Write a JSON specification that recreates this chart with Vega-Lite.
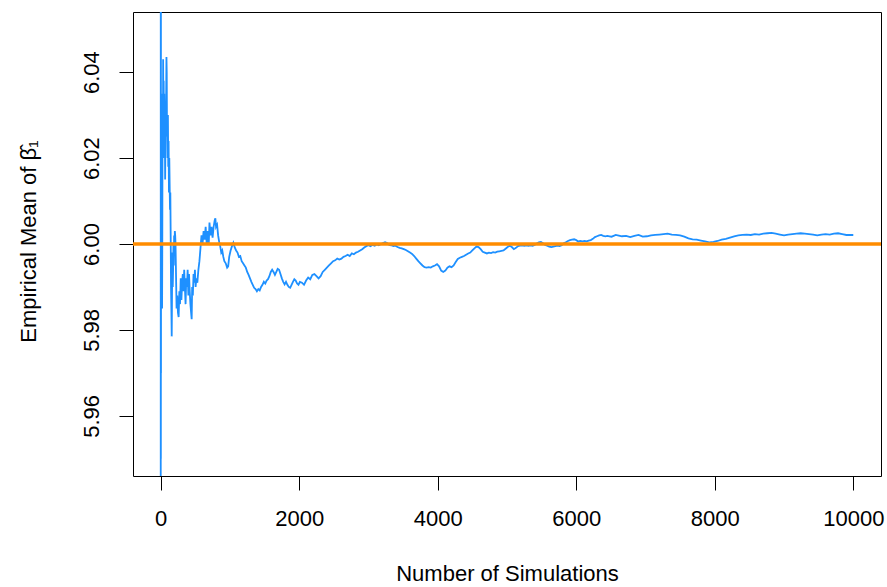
{
  "$schema": "https://vega.github.io/schema/vega-lite/v6.json",
  "autosize": {"type": "none"},
  "width": 748,
  "height": 464,
  "padding": {"left": 133, "top": 12, "right": 6, "bottom": 111},
  "background": "white",
  "config": {
    "view": {"stroke": "black", "strokeWidth": 1},
    "font": "Liberation Sans",
    "axis": {"grid": false, "domain": false, "tickColor": "black", "tickSize": 14, "tickWidth": 1, "labelColor": "black", "titleColor": "black", "labelFont": "Liberation Sans", "titleFont": "Liberation Sans", "labelFontSize": 22, "titleFontSize": 22, "titleFontWeight": "normal"}
  },
  "layer": [
    {
      "data": {"values": [
        {"n":1,"m":5.80},{"n":2,"m":6.12},{"n":3,"m":5.95},{"n":4,"m":6.06},{"n":5,"m":5.97},{"n":6,"m":6.03},{"n":7,"m":5.99},{"n":8,"m":6.02},{"n":10,"m":5.995},{"n":12,"m":6.03},{"n":15,"m":6.01},{"n":18,"m":5.99},{"n":21,"m":5.985},{"n":24,"m":6.0},{"n":27,"m":6.025},{"n":30,"m":6.035},{"n":33,"m":6.02},{"n":36,"m":6.043},{"n":40,"m":6.03},{"n":44,"m":6.038},{"n":48,"m":6.025},{"n":52,"m":6.035},{"n":56,"m":6.02},{"n":60,"m":6.03},{"n":65,"m":6.015},{"n":70,"m":6.025},{"n":75,"m":6.028},{"n":80,"m":6.035},{"n":84,"m":6.0435},{"n":88,"m":6.04},{"n":92,"m":6.025},{"n":96,"m":6.03},{"n":100,"m":6.02},{"n":105,"m":6.03},{"n":110,"m":6.018},{"n":115,"m":6.024},{"n":120,"m":6.012},{"n":125,"m":6.02},{"n":130,"m":6.014},{"n":135,"m":6.008},{"n":140,"m":6.012},{"n":145,"m":6.002},{"n":150,"m":5.99},{"n":155,"m":5.985},{"n":160,"m":5.9785},{"n":165,"m":5.99},{"n":170,"m":5.998},{"n":175,"m":5.99},{"n":180,"m":5.994},{"n":185,"m":6.0},{"n":190,"m":5.995},{"n":195,"m":6.002},{"n":200,"m":5.998},{"n":205,"m":6.003},{"n":210,"m":6.002},{"n":215,"m":6.0},{"n":220,"m":5.995},{"n":225,"m":5.99},{"n":230,"m":5.985},{"n":240,"m":5.988},{"n":250,"m":5.984},{"n":260,"m":5.983},{"n":270,"m":5.989},{"n":280,"m":5.986},{"n":290,"m":5.992},{"n":300,"m":5.987},{"n":310,"m":5.991},{"n":320,"m":5.993},{"n":330,"m":5.989},{"n":340,"m":5.994},{"n":350,"m":5.99},{"n":360,"m":5.986},{"n":370,"m":5.992},{"n":380,"m":5.99},{"n":390,"m":5.994},{"n":400,"m":5.988},{"n":410,"m":5.993},{"n":420,"m":5.989},{"n":430,"m":5.986},{"n":440,"m":5.984},{"n":448,"m":5.9825},{"n":455,"m":5.99},{"n":465,"m":5.988},{"n":475,"m":5.993},{"n":485,"m":5.991},{"n":495,"m":5.994},{"n":505,"m":5.99},{"n":515,"m":5.992},{"n":530,"m":5.991},{"n":545,"m":5.994},{"n":560,"m":5.996},{"n":575,"m":5.999},{"n":590,"m":6.002},{"n":605,"m":6.0},{"n":620,"m":6.003},{"n":635,"m":6.001},{"n":650,"m":6.004},{"n":665,"m":6.0},{"n":680,"m":6.003},{"n":695,"m":6.0},{"n":705,"m":6.005},{"n":720,"m":6.002},{"n":735,"m":6.004},{"n":750,"m":6.0015},{"n":765,"m":6.004},{"n":780,"m":6.0055},{"n":790,"m":6.006},{"n":800,"m":6.004},{"n":815,"m":6.0045},{"n":830,"m":6.002},{"n":845,"m":6.0005},{"n":860,"m":5.9995},{"n":875,"m":5.998},{"n":890,"m":5.9985},{"n":905,"m":5.997},{"n":920,"m":5.996},{"n":940,"m":5.9955},{"n":960,"m":5.9945},{"n":975,"m":5.9948},{"n":990,"m":5.997},{"n":1010,"m":5.9985},{"n":1030,"m":5.9995},{"n":1050,"m":6.0003},{"n":1070,"m":5.9992},{"n":1090,"m":5.9985},{"n":1110,"m":5.998},{"n":1130,"m":5.997},{"n":1150,"m":5.9972},{"n":1170,"m":5.996},{"n":1190,"m":5.9955},{"n":1210,"m":5.995},{"n":1230,"m":5.9945},{"n":1250,"m":5.9935},{"n":1270,"m":5.9928},{"n":1290,"m":5.992},{"n":1310,"m":5.9912},{"n":1330,"m":5.9905},{"n":1350,"m":5.9898},{"n":1370,"m":5.9895},{"n":1390,"m":5.989},{"n":1410,"m":5.9895},{"n":1430,"m":5.9892},{"n":1450,"m":5.99},{"n":1470,"m":5.9905},{"n":1490,"m":5.9912},{"n":1510,"m":5.9908},{"n":1530,"m":5.9915},{"n":1550,"m":5.9918},{"n":1570,"m":5.9925},{"n":1590,"m":5.9935},{"n":1610,"m":5.994},{"n":1630,"m":5.9935},{"n":1650,"m":5.9928},{"n":1670,"m":5.9935},{"n":1690,"m":5.9942},{"n":1710,"m":5.994},{"n":1730,"m":5.993},{"n":1750,"m":5.992},{"n":1770,"m":5.9912},{"n":1790,"m":5.9906},{"n":1810,"m":5.9912},{"n":1830,"m":5.9905},{"n":1850,"m":5.99},{"n":1870,"m":5.9898},{"n":1890,"m":5.9905},{"n":1910,"m":5.9912},{"n":1930,"m":5.9918},{"n":1950,"m":5.9915},{"n":1970,"m":5.9908},{"n":1990,"m":5.9905},{"n":2010,"m":5.9912},{"n":2040,"m":5.991},{"n":2070,"m":5.9905},{"n":2100,"m":5.9915},{"n":2130,"m":5.9922},{"n":2160,"m":5.9918},{"n":2190,"m":5.9928},{"n":2220,"m":5.993},{"n":2250,"m":5.9925},{"n":2280,"m":5.992},{"n":2310,"m":5.9925},{"n":2340,"m":5.9935},{"n":2370,"m":5.994},{"n":2400,"m":5.9945},{"n":2430,"m":5.995},{"n":2460,"m":5.9955},{"n":2490,"m":5.996},{"n":2520,"m":5.9962},{"n":2550,"m":5.9966},{"n":2580,"m":5.9964},{"n":2610,"m":5.9966},{"n":2640,"m":5.997},{"n":2670,"m":5.9972},{"n":2700,"m":5.9975},{"n":2730,"m":5.9972},{"n":2760,"m":5.9978},{"n":2790,"m":5.9976},{"n":2820,"m":5.998},{"n":2850,"m":5.9982},{"n":2880,"m":5.9985},{"n":2910,"m":5.9988},{"n":2940,"m":5.9992},{"n":2970,"m":5.9995},{"n":3000,"m":5.9997},{"n":3030,"m":5.9995},{"n":3060,"m":5.9998},{"n":3090,"m":5.9996},{"n":3120,"m":5.9999},{"n":3150,"m":5.9997},{"n":3180,"m":6.0},{"n":3210,"m":6.0002},{"n":3240,"m":6.0004},{"n":3270,"m":6.0002},{"n":3300,"m":5.9998},{"n":3330,"m":5.9997},{"n":3360,"m":5.9995},{"n":3390,"m":5.9996},{"n":3420,"m":5.9993},{"n":3450,"m":5.9991},{"n":3480,"m":5.999},{"n":3510,"m":5.9988},{"n":3540,"m":5.9986},{"n":3570,"m":5.9983},{"n":3600,"m":5.998},{"n":3630,"m":5.9977},{"n":3660,"m":5.9972},{"n":3690,"m":5.9966},{"n":3720,"m":5.996},{"n":3750,"m":5.9955},{"n":3780,"m":5.995},{"n":3810,"m":5.9946},{"n":3840,"m":5.9945},{"n":3870,"m":5.9946},{"n":3900,"m":5.9945},{"n":3930,"m":5.9948},{"n":3960,"m":5.995},{"n":3990,"m":5.9953},{"n":4020,"m":5.9948},{"n":4050,"m":5.9938},{"n":4080,"m":5.9935},{"n":4110,"m":5.9938},{"n":4140,"m":5.9945},{"n":4170,"m":5.9948},{"n":4200,"m":5.9946},{"n":4230,"m":5.995},{"n":4260,"m":5.9958},{"n":4290,"m":5.9965},{"n":4320,"m":5.9968},{"n":4350,"m":5.997},{"n":4380,"m":5.9972},{"n":4410,"m":5.9975},{"n":4440,"m":5.9978},{"n":4470,"m":5.998},{"n":4500,"m":5.9985},{"n":4530,"m":5.999},{"n":4560,"m":5.9994},{"n":4590,"m":5.9993},{"n":4620,"m":5.9988},{"n":4650,"m":5.9982},{"n":4680,"m":5.998},{"n":4710,"m":5.9978},{"n":4740,"m":5.998},{"n":4770,"m":5.9979},{"n":4800,"m":5.9981},{"n":4830,"m":5.998},{"n":4860,"m":5.9982},{"n":4890,"m":5.9983},{"n":4920,"m":5.9984},{"n":4950,"m":5.9985},{"n":4980,"m":5.9989},{"n":5010,"m":5.9993},{"n":5040,"m":5.9996},{"n":5070,"m":5.9993},{"n":5100,"m":5.9988},{"n":5130,"m":5.9991},{"n":5160,"m":5.9995},{"n":5190,"m":5.9996},{"n":5220,"m":5.9997},{"n":5250,"m":5.9996},{"n":5280,"m":5.9997},{"n":5310,"m":5.9996},{"n":5340,"m":5.9997},{"n":5370,"m":5.9996},{"n":5400,"m":5.9998},{"n":5430,"m":6.0001},{"n":5460,"m":6.0004},{"n":5490,"m":6.0005},{"n":5520,"m":6.0002},{"n":5550,"m":5.9998},{"n":5580,"m":5.9996},{"n":5610,"m":5.9994},{"n":5640,"m":5.9993},{"n":5670,"m":5.9994},{"n":5700,"m":5.9995},{"n":5730,"m":5.9996},{"n":5760,"m":5.9995},{"n":5790,"m":5.9997},{"n":5820,"m":6.0002},{"n":5850,"m":6.0004},{"n":5880,"m":6.0007},{"n":5910,"m":6.0009},{"n":5940,"m":6.001},{"n":5970,"m":6.0011},{"n":6000,"m":6.0009},{"n":6030,"m":6.0006},{"n":6060,"m":6.0007},{"n":6090,"m":6.0006},{"n":6120,"m":6.0007},{"n":6150,"m":6.0006},{"n":6180,"m":6.0008},{"n":6210,"m":6.0009},{"n":6240,"m":6.0012},{"n":6270,"m":6.0016},{"n":6300,"m":6.0018},{"n":6330,"m":6.002},{"n":6360,"m":6.0021},{"n":6390,"m":6.0019},{"n":6420,"m":6.0018},{"n":6450,"m":6.0019},{"n":6480,"m":6.0018},{"n":6510,"m":6.0017},{"n":6540,"m":6.0019},{"n":6570,"m":6.0021},{"n":6600,"m":6.002},{"n":6630,"m":6.0019},{"n":6660,"m":6.0018},{"n":6720,"m":6.0019},{"n":6780,"m":6.0016},{"n":6840,"m":6.0019},{"n":6900,"m":6.0021},{"n":6960,"m":6.0017},{"n":7020,"m":6.0018},{"n":7080,"m":6.002},{"n":7140,"m":6.0021},{"n":7200,"m":6.0022},{"n":7260,"m":6.0023},{"n":7320,"m":6.0024},{"n":7380,"m":6.0022},{"n":7440,"m":6.0021},{"n":7500,"m":6.002},{"n":7560,"m":6.0017},{"n":7620,"m":6.0013},{"n":7680,"m":6.0011},{"n":7740,"m":6.001},{"n":7800,"m":6.0008},{"n":7860,"m":6.0006},{"n":7920,"m":6.0004},{"n":7980,"m":6.0005},{"n":8040,"m":6.0007},{"n":8100,"m":6.001},{"n":8160,"m":6.0012},{"n":8220,"m":6.0015},{"n":8280,"m":6.0018},{"n":8340,"m":6.002},{"n":8400,"m":6.0021},{"n":8460,"m":6.0022},{"n":8520,"m":6.0021},{"n":8580,"m":6.0023},{"n":8640,"m":6.0022},{"n":8700,"m":6.0024},{"n":8760,"m":6.0025},{"n":8820,"m":6.0026},{"n":8880,"m":6.0024},{"n":8940,"m":6.0022},{"n":9000,"m":6.002},{"n":9060,"m":6.0022},{"n":9120,"m":6.0023},{"n":9180,"m":6.0024},{"n":9240,"m":6.0025},{"n":9300,"m":6.0024},{"n":9360,"m":6.0023},{"n":9420,"m":6.0022},{"n":9480,"m":6.002},{"n":9540,"m":6.0022},{"n":9600,"m":6.0023},{"n":9660,"m":6.0022},{"n":9720,"m":6.0024},{"n":9780,"m":6.0025},{"n":9840,"m":6.0023},{"n":9900,"m":6.0021},{"n":9960,"m":6.0021},{"n":10000,"m":6.0021}
      ]},
      "mark": {"type": "line", "clip": true, "color": "#1E90FF", "strokeWidth": 1.8},
      "encoding": {
        "x": {"field": "n", "type": "quantitative",
          "scale": {"domain": [-399, 10400], "nice": false, "zero": false},
          "axis": {"values": [0, 2000, 4000, 6000, 8000, 10000], "format": "d", "labelPadding": 18, "labelBaseline": "top", "title": "Number of Simulations", "titleX": 374, "titleY": 104, "titleBaseline": "alphabetic", "titleAlign": "center"}},
        "y": {"field": "m", "type": "quantitative",
          "scale": {"domain": [5.946, 6.054], "nice": false, "zero": false},
          "axis": {"values": [5.96, 5.98, 6.0, 6.02, 6.04], "format": ".2f", "labelAngle": -90, "labelAlign": "center", "labelBaseline": "alphabetic", "labelPadding": 21, "title": "Empirical Mean of β̂₁", "titleAngle": -90, "titleX": -98, "titleY": 229, "titleBaseline": "alphabetic", "titleAlign": "center"}}
      }
    },
    {
      "data": {"values": [{"ref": 6.0}]},
      "mark": {"type": "rule", "color": "#FF8C00", "strokeWidth": 3.5},
      "encoding": {"y": {"field": "ref", "type": "quantitative"}}
    }
  ]
}
